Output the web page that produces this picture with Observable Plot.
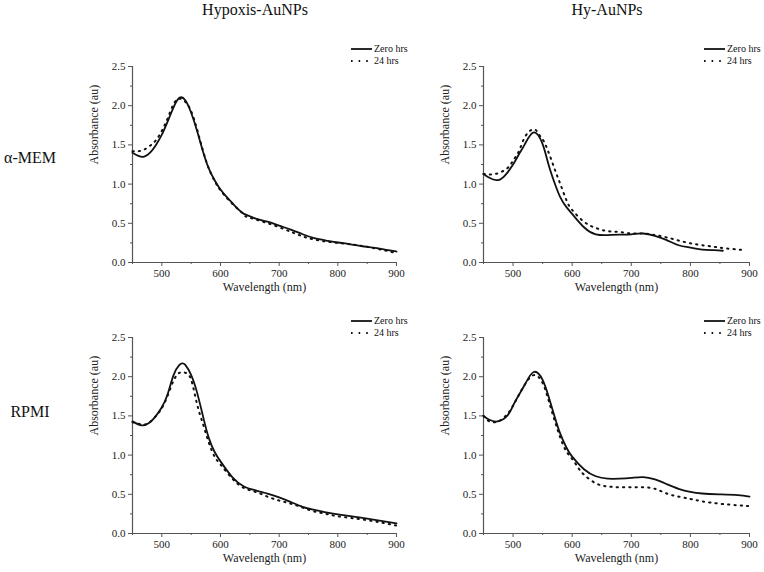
<!DOCTYPE html>
<html>
<head>
<meta charset="utf-8">
<script src="https://cdn.jsdelivr.net/npm/d3@7"></script>
<script src="https://cdn.jsdelivr.net/npm/@observablehq/plot@0.6"></script>
<style>
  html, body { margin: 0; padding: 0; background: #fff; }
  #root { position: relative; width: 764px; height: 572px; font-family: "Liberation Serif", "Times New Roman", serif; color: #111; overflow: hidden; }
  #root svg, #root svg text { font-family: "Liberation Serif", "Times New Roman", serif !important; }
  .abs { position: absolute; }
  .title { font-size: 16px; white-space: nowrap; transform: translateX(-50%); line-height: 1; }
  .row { font-size: 16px; white-space: nowrap; transform: translateX(-50%); line-height: 1; }
  .legend { font-size: 10px; line-height: 12px; }
  .legend div { display: flex; align-items: center; height: 12px; }
  .legend svg { margin-right: 2px; }
</style>
</head>
<body>
<div id="root"></div>
<script>
// ---- data ----
const columns = ["Hypoxis-AuNPs", "Hy-AuNPs"];
const rows = ["α-MEM", "RPMI"];
const seriesNames = ["Zero hrs", "24 hrs"];
const xTicks = [500, 600, 700, 800, 900];
const xMinorTicks = [450, 550, 650, 750, 850];
const yTicks = [0, 0.5, 1.0, 1.5, 2.0, 2.5];
const yMinorTicks = [0.25, 0.75, 1.25, 1.75, 2.25];
const xLabel = "Wavelength (nm)";
const yLabel = "Absorbance (au)";

// Hypoxis-AuNPs, α-MEM
const hypMemZeroWl = [450,460,470,480,490,500,510,520,530,540,550,560,570,580,590,600,610,620,630,640,650,660,680,700,720,740,760,780,800,820,840,860,880,900];
const hypMemZeroAbs = [1.40,1.36,1.35,1.40,1.50,1.63,1.80,1.98,2.10,2.07,1.91,1.68,1.42,1.20,1.05,0.93,0.84,0.76,0.68,0.62,0.59,0.56,0.52,0.47,0.42,0.36,0.31,0.28,0.255,0.235,0.21,0.19,0.165,0.14];
const hypMem24Wl = [450,460,470,480,490,500,510,520,530,540,550,560,570,580,590,600,620,640,650,700,750,800,850,900];
const hypMem24Abs = [1.42,1.42,1.44,1.49,1.56,1.68,1.84,2.02,2.09,2.05,1.93,1.70,1.43,1.20,1.04,0.92,0.75,0.61,0.57,0.45,0.31,0.25,0.20,0.12];

// Hy-AuNPs, α-MEM
const hyMemZeroWl = [450,460,472,485,500,510,520,535,550,560,570,580,590,600,620,640,660,680,700,720,740,760,780,800,820,840,855];
const hyMemZeroAbs = [1.13,1.08,1.05,1.10,1.25,1.38,1.51,1.66,1.51,1.25,1.02,0.83,0.71,0.62,0.45,0.36,0.35,0.355,0.36,0.37,0.34,0.285,0.22,0.19,0.165,0.157,0.15];
const hy24MemWl = [450,470,490,500,510,520,535,545,555,570,580,590,600,620,640,660,680,700,720,740,760,780,800,820,840,860,890];
const hy24MemAbs = [1.13,1.13,1.20,1.30,1.42,1.60,1.70,1.62,1.50,1.20,1.00,0.80,0.67,0.52,0.44,0.40,0.39,0.37,0.37,0.35,0.32,0.28,0.245,0.22,0.20,0.18,0.16];

// Hypoxis-AuNPs, RPMI
const hypRpmiZeroWl = [450,466,480,490,500,510,520,530,535,540,550,560,570,580,590,600,620,640,660,680,700,720,740,760,780,800,850,900];
const hypRpmiZeroAbs = [1.43,1.38,1.42,1.50,1.61,1.78,2.02,2.15,2.17,2.15,2.02,1.80,1.50,1.22,1.04,0.92,0.72,0.60,0.55,0.51,0.46,0.40,0.34,0.30,0.27,0.245,0.19,0.13];
const hypRpmi24Wl = [450,460,475,490,500,510,520,530,540,550,560,570,580,590,600,620,640,660,680,700,720,740,760,780,800,850,900];
const hypRpmi24Abs = [1.42,1.40,1.40,1.50,1.60,1.76,1.95,2.05,2.05,1.96,1.65,1.40,1.16,0.98,0.88,0.70,0.58,0.53,0.47,0.42,0.38,0.33,0.28,0.25,0.22,0.17,0.10];

// Hy-AuNPs, RPMI
const hyRpmiZeroWl = [450,460,474,490,500,510,520,535,550,560,570,580,590,600,620,640,660,680,700,720,740,760,780,800,820,850,880,900];
const hyRpmiZeroAbs = [1.50,1.45,1.43,1.50,1.63,1.77,1.90,2.06,1.96,1.75,1.50,1.27,1.10,0.98,0.82,0.73,0.70,0.70,0.71,0.72,0.69,0.63,0.57,0.53,0.51,0.50,0.49,0.47];
const hyRpmi24Wl = [450,460,475,490,500,510,520,535,550,560,570,580,590,600,610,620,640,660,680,700,720,740,760,780,800,820,850,880,900];
const hyRpmi24Abs = [1.50,1.43,1.43,1.52,1.63,1.77,1.90,2.02,1.92,1.70,1.45,1.22,1.05,0.95,0.84,0.75,0.64,0.60,0.59,0.59,0.59,0.57,0.51,0.47,0.44,0.41,0.38,0.36,0.35];

// ---- build ----
const toPts = (wl, ab) => wl.map((w, i) => ({wl: w, abs: ab[i]}));
const panels = [
  {zero: toPts(hypMemZeroWl, hypMemZeroAbs), h24: toPts(hypMem24Wl, hypMem24Abs), left: 0, top: 0},
  {zero: toPts(hyMemZeroWl, hyMemZeroAbs), h24: toPts(hy24MemWl, hy24MemAbs), left: 382, top: 0},
  {zero: toPts(hypRpmiZeroWl, hypRpmiZeroAbs), h24: toPts(hypRpmi24Wl, hypRpmi24Abs), left: 0, top: 300},
  {zero: toPts(hyRpmiZeroWl, hyRpmiZeroAbs), h24: toPts(hyRpmi24Wl, hyRpmi24Abs), left: 382, top: 300}
];

const root = document.getElementById("root");
const axisColor = "#555";
const dotDash = "1.3,5";
const serif = "'Liberation Serif', 'Times New Roman', serif";

panels.forEach((p, i) => {
  const isLeft = p.left === 0;
  const isTop = p.top === 0;
  const marginLeft = isLeft ? 132 : 101;
  const width = isLeft ? 410 : 382;
  const marginRight = isLeft ? 14 : 15;
  const marginTop = isTop ? 66 : 37;
  const height = isTop ? 300 : 272;
  const marginBottom = isTop ? 38 : 39;

  const chart = Plot.plot({
    width, height, marginLeft, marginRight, marginTop, marginBottom,
    style: `background: transparent; font-family: ${serif}; font-size: 11px; color: #222; overflow: visible;`,
    x: {domain: [450, 900]},
    y: {domain: [0, 2.5]},
    marks: [
      Plot.axisX(xTicks, {tickSize: 4, tickPadding: 3, label: null, stroke: axisColor, fontFamily: serif, tickFormat: d => String(d)}),
      Plot.axisX(xMinorTicks, {tickSize: 2, label: null, stroke: axisColor, tickFormat: () => ""}),
      Plot.axisY(yTicks, {tickSize: 4, tickPadding: 3, label: null, stroke: axisColor, fontFamily: serif, tickFormat: d => d.toFixed(1)}),
      Plot.axisY(yMinorTicks, {tickSize: 2, label: null, stroke: axisColor, tickFormat: () => ""}),
      Plot.ruleY([0], {stroke: axisColor, strokeWidth: 1.2}),
      Plot.ruleX([450], {stroke: axisColor, strokeWidth: 1.2}),
      Plot.text([xLabel], {frameAnchor: "bottom", dy: 28, fontSize: 12, fontFamily: serif, fill: "#222"}),
      Plot.text([yLabel], {frameAnchor: "left", dx: -38, rotate: -90, fontSize: 12, fontFamily: serif, fill: "#222"}),
      Plot.line(p.h24, {x: "wl", y: "abs", curve: "natural", stroke: "#111", strokeWidth: 2, strokeDasharray: dotDash}),
      Plot.line(p.zero, {x: "wl", y: "abs", curve: "natural", stroke: "#111", strokeWidth: 1.8})
    ]
  });
  const wrap = document.createElement("div");
  wrap.className = "abs";
  wrap.style.left = p.left + "px";
  wrap.style.top = p.top + "px";
  wrap.appendChild(chart);
  root.appendChild(wrap);

  // legend
  const lg = document.createElement("div");
  lg.className = "abs legend";
  lg.style.left = (p.left + marginLeft + (width - marginLeft - marginRight) - 46) + "px";
  lg.style.top = (p.top + (isTop ? 43 : 15)) + "px";
  seriesNames.forEach((name, k) => {
    const r = document.createElement("div");
    r.innerHTML = `<svg width="22" height="6"><line x1="1" x2="22" y1="3" y2="3" stroke="#111" stroke-width="${k === 0 ? 1.8 : 2}" ${k === 1 ? `stroke-dasharray="1.6,6"` : ""}/></svg><span>${name}</span>`;
    lg.appendChild(r);
  });
  root.appendChild(lg);
});

// column titles
columns.forEach((c, i) => {
  const d = document.createElement("div");
  d.className = "abs title";
  d.textContent = c;
  d.style.left = (i === 0 ? 255 : 607) + "px";
  d.style.top = "2px";
  root.appendChild(d);
});
// row labels
rows.forEach((r, i) => {
  const d = document.createElement("div");
  d.className = "abs row";
  d.textContent = r;
  d.style.left = "30px";
  d.style.top = (i === 0 ? 150 : 404) + "px";
  root.appendChild(d);
});
</script>
</body>
</html>
